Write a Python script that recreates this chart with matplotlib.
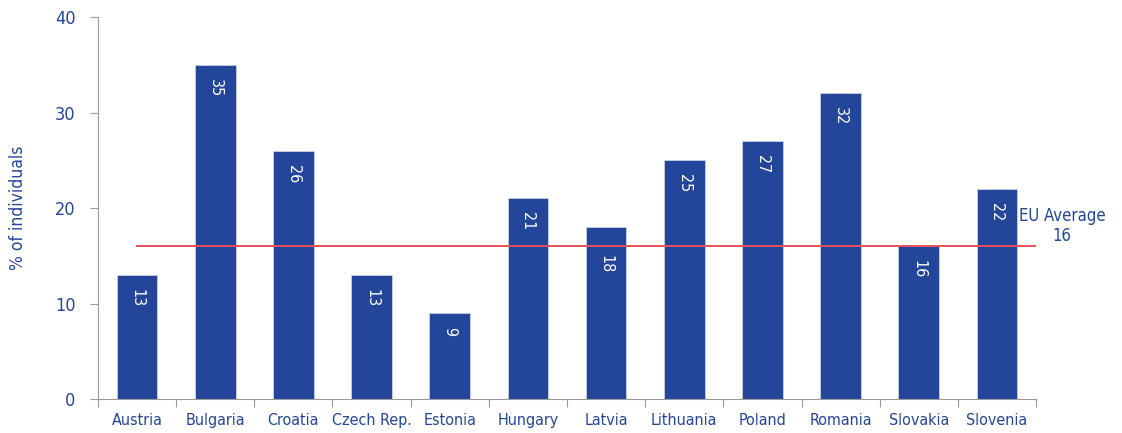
import numpy as np
import matplotlib.pyplot as plt

plt.rcParams['font.family'] = ['DejaVu Sans']
plt.rcParams['font.stretch'] = 'condensed'

countries = ['Austria', 'Bulgaria', 'Croatia', 'Czech Rep.', 'Estonia', 'Hungary',
             'Latvia', 'Lithuania', 'Poland', 'Romania', 'Slovakia', 'Slovenia']
shares = [13, 35, 26, 13, 9, 21, 18, 25, 27, 32, 16, 22]
eu_average = 16

blue = '#23469a'
red = '#e8505b'
grey = '#9a9a9a'

fig = plt.figure(figsize=(11.22, 4.33), dpi=100)
ax = fig.add_axes([0.0873, 0.0785, 0.8361, 0.8822])

x = np.arange(len(countries))
ax.bar(x, shares, width=0.52, color=blue, edgecolor='#c9d1e6', linewidth=0.6, zorder=2)

# value labels, rotated and placed just under the top of each bar;
# a bar ending just above the average line gets its label below the line
for xi, v in zip(x, shares):
    if 0 < v - eu_average < 3:
        anchor, dy = eu_average, -6
    else:
        anchor, dy = v, -10
    ax.annotate(str(v), (xi, anchor), xytext=(0, dy), textcoords='offset points',
                rotation=270, ha='center', va='top', color='white', fontsize=11.5,
                zorder=4)

ax.plot([0, len(countries) - 0.5], [eu_average, eu_average], color=red, lw=1.4, zorder=3)
ax.text(len(countries) - 0.17, eu_average + 0.1, f'EU Average\n{eu_average}',
        color=blue, fontsize=12, ha='center', va='bottom', linespacing=1.15,
        clip_on=False)

ax.set_xlim(-0.5, len(countries) - 0.5)
ax.set_ylim(0, 40)
ax.set_yticks([0, 10, 20, 30, 40])
ax.set_xticks(np.arange(-0.5, len(countries), 1))
ax.set_xticklabels([])
ax.set_xticks(x, minor=True)
ax.set_xticklabels(countries, minor=True)
ax.tick_params(axis='x', which='minor', length=0, pad=10, labelsize=11.5, labelcolor=blue)
ax.tick_params(axis='x', which='major', length=6, color=grey, direction='out')
ax.tick_params(axis='y', length=6, color=grey, labelsize=13, labelcolor=blue, pad=10)

for side in ['top', 'right']:
    ax.spines[side].set_visible(False)
ax.spines['left'].set_color(grey)
ax.spines['bottom'].set_color(grey)

ax.set_ylabel('% of individuals', color=blue, fontsize=12.5, labelpad=20)

fig.savefig('out.png', dpi=100)
